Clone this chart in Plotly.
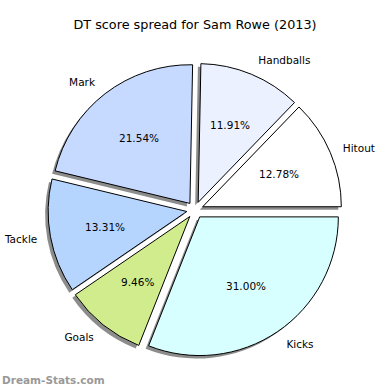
import math
import plotly.graph_objects as go

categories = ["Hitout", "Handballs", "Mark", "Tackle", "Goals", "Kicks"]
percentages = [12.78, 11.91, 21.54, 13.31, 9.46, 31.00]
slice_colors = ["#ffffff", "#ebf1ff", "#c6d9ff", "#b5d5ff", "#d0ec8c", "#d8ffff"]
title_text = "DT score spread for Sam Rowe (2013)"
watermark = "Dream-Stats.com"

W = H = 390
PULL = 0.06
PCT_DIST = 0.6
total = sum(percentages)
# plotly's counterclockwise pies end the first slice at the rotation point,
# so shift by the first slice so that it *starts* at 3 o'clock
first_angle = 360.0 * percentages[0] / total
ROT = 90 - first_angle

cx, cy = 195 / 390.0, 1 - 210 / 390.0
half = 147 / 390.0
half_lbl = half * 1.07
R_main = half / (1 + PULL)


def dom(h, dx=0.0, dy=0.0):
    return dict(x=[cx - h + dx, cx + h + dx], y=[cy - h + dy, cy + h + dy])


sh = 3 / 390.0
FONT = "DejaVu Sans"
common = dict(
    values=percentages,
    sort=False,
    direction="counterclockwise",
    rotation=ROT,
    hoverinfo="skip",
    showlegend=False,
)
n = len(percentages)

fig = go.Figure()
# shadow
fig.add_trace(go.Pie(
    labels=[c + " shadow" for c in categories],
    marker=dict(colors=["rgba(0,0,0,0.45)"] * n, line=dict(width=0)),
    textinfo="none",
    pull=[PULL] * n,
    domain=dom(half, -sh, -sh),
    **common,
))
# main slices
fig.add_trace(go.Pie(
    labels=categories,
    marker=dict(colors=slice_colors, line=dict(color="black", width=1)),
    textinfo="none",
    pull=[PULL] * n,
    domain=dom(half),
    **common,
))
# outside category labels
fig.add_trace(go.Pie(
    labels=[c + " " for c in categories],
    marker=dict(colors=["rgba(0,0,0,0)"] * n, line=dict(width=0)),
    text=categories,
    texttemplate="%{text}",
    textposition="outside",
    outsidetextfont=dict(family=FONT, size=10.5, color="black"),
    pull=[PULL] * n,
    domain=dom(half_lbl),
    **common,
))

# percentage texts centred at 0.6 r along each slice's mid-angle (derived from the data)
annotations = []
start = 0.0
for v in percentages:
    span = 2 * math.pi * v / total
    mid = start + span / 2
    start += span
    dist = (PULL + PCT_DIST) * R_main
    annotations.append(dict(
        text=f"{v:.2f}%", xref="paper", yref="paper",
        x=cx + dist * math.cos(mid), y=cy + dist * math.sin(mid),
        xanchor="center", yanchor="middle", showarrow=False,
        font=dict(family=FONT, size=10.5, color="black"),
    ))
annotations.append(dict(text=watermark, xref="paper", yref="paper", x=0, y=10 / 390,
                        xanchor="left", yanchor="middle", showarrow=False,
                        font=dict(family=FONT, size=10.5, color="#999999", weight="bold")))

fig.update_layout(
    width=W, height=H,
    margin=dict(l=0, r=0, t=0, b=0, autoexpand=False),
    paper_bgcolor="white", plot_bgcolor="white",
    title=dict(text=title_text, x=0.5, xanchor="center", y=1 - 25 / 390, yanchor="middle",
               font=dict(family=FONT, size=12.8, color="black")),
    annotations=annotations,
)

fig.write_html("out.html", config={"displayModeBar": False},
               post_script="document.body.style.margin='0';")
